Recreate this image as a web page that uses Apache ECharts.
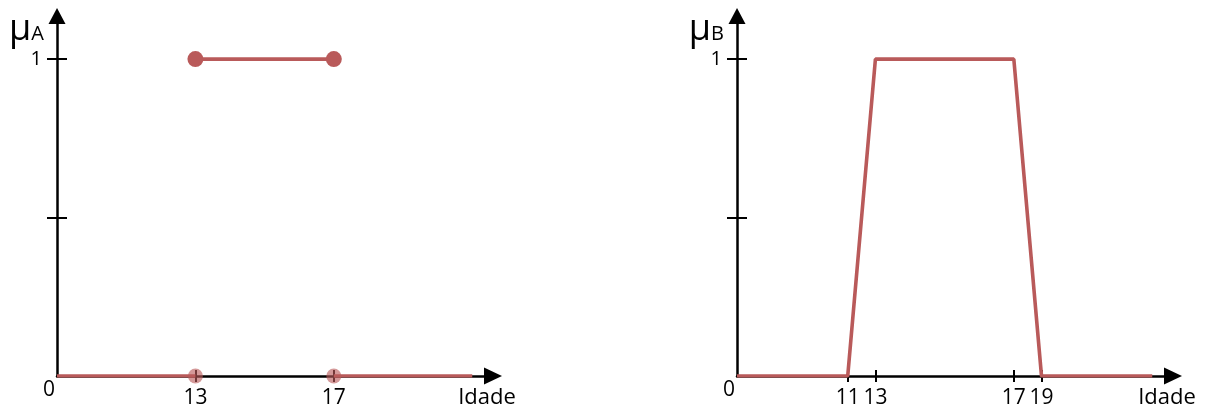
<!DOCTYPE html>
<html>
<head>
<meta charset="utf-8">
<script src="https://cdn.jsdelivr.net/npm/echarts@6/dist/echarts.min.js"></script>
<style>
  html, body { margin: 0; padding: 0; background: #fff; }
  #chart { width: 1210px; height: 410px; }
</style>
</head>
<body>
<div id="chart"></div>
<script>
// Age breakpoints and the step each one takes along the (schematic) age axis
const scaleAgesA = [0, 13, 17, 21];
const scaleStepsA = [0, 1, 2, 3];
const scaleAgesB = [0, 11, 13, 17, 19, 23];
const scaleStepsB = [0, 0.8, 1, 2, 2.2, 3];

// Labelled ages on each age axis
const ticksA = [13, 17];
const ticksB = [11, 13, 17, 19];

// Crisp set A: membership pieces as [age, mu]
const pieceLowA = [[0, 0], [13, 0]];
const pieceMidA = [[13, 1], [17, 1]];
const pieceHighA = [[17, 0], [21, 0]];
const closedDotsA = [[13, 1], [17, 1]];
const openDotsA = [[13, 0], [17, 0]];

// Fuzzy set B: trapezoidal membership
const agesB = [0, 11, 13, 17, 19, 23];
const muB = [0, 0, 1, 1, 0, 0];

// Membership ticks and labels
const muTicks = [0.5, 1];
const muLabels = [1];

const RED = '#b95a5a';
const INK = '#000';
const FONT = 'Open Sans';
const X_MAX = 3.15;
const Y_MAX = 1.136;

function piecewise(xs, ys) {
  return v => {
    for (let i = 1; i < xs.length; i++) {
      if (v <= xs[i] || i === xs.length - 1) {
        const t = (v - xs[i - 1]) / (xs[i] - xs[i - 1]);
        return ys[i - 1] + t * (ys[i] - ys[i - 1]);
      }
    }
    return ys[0];
  };
}

const stepA = piecewise(scaleAgesA, scaleStepsA);
const ageA = piecewise(scaleStepsA, scaleAgesA);
const stepB = piecewise(scaleAgesB, scaleStepsB);
const ageB = piecewise(scaleStepsB, scaleAgesB);

const inkLine = { color: INK, width: 2.5 };
const tickLine = { color: INK, width: 2 };

function xAxes(gridIndex, toStep, toAge, ticks) {
  const at = ticks.map(toStep);
  return [
    {
      type: 'value', gridIndex, min: 0, max: X_MAX, position: 'bottom',
      splitLine: { show: false },
      axisLine: { show: true, onZero: false, lineStyle: inkLine, symbol: ['none', 'triangle'], symbolSize: [17, 18] },
      axisTick: { show: true, customValues: at, length: 6, lineStyle: tickLine },
      axisLabel: {
        show: true, customValues: at, margin: 12, color: INK, fontFamily: FONT, fontSize: 21,
        formatter: v => String(Math.round(toAge(v)))
      },
      name: 'Idade', nameLocation: 'end', nameGap: -6,
      nameTextStyle: { align: 'center', verticalAlign: 'top', padding: [11, 0, 0, 0], color: INK, fontFamily: FONT, fontSize: 22 }
    },
    {
      type: 'value', gridIndex, min: 0, max: X_MAX, position: 'bottom',
      splitLine: { show: false },
      axisLine: { show: false, onZero: false },
      axisTick: { show: true, inside: true, customValues: at, length: 6, lineStyle: tickLine },
      axisLabel: { show: false }
    }
  ];
}

function yAxes(gridIndex, letter) {
  return [
    {
      type: 'value', gridIndex, min: 0, max: Y_MAX, position: 'left',
      splitLine: { show: false },
      axisLine: { show: true, onZero: false, lineStyle: inkLine, symbol: ['none', 'triangle'], symbolSize: [17, 16] },
      axisTick: { show: true, customValues: muTicks, length: 10, lineStyle: tickLine },
      axisLabel: { show: true, customValues: muLabels, margin: 15, color: INK, fontFamily: FONT, fontSize: 20 },
      name: '{mu|μ}{sub|' + letter + '}', nameLocation: 'end', nameGap: -14,
      nameTextStyle: {
        align: 'right', verticalAlign: 'middle', padding: [0, 13, 0, 0], color: INK, fontFamily: FONT,
        rich: {
          mu: { fontSize: 36, fontFamily: FONT, color: INK },
          sub: { fontSize: 20, fontFamily: FONT, color: INK, padding: [9, 0, 0, 0] }
        }
      }
    },
    {
      type: 'value', gridIndex, min: 0, max: Y_MAX, position: 'left',
      splitLine: { show: false },
      axisLine: { show: false, onZero: false },
      axisTick: { show: true, inside: true, customValues: muTicks, length: 10, lineStyle: tickLine },
      axisLabel: {
        show: true, customValues: [0], margin: 2, verticalAlign: 'top', padding: [4, 0, 0, 0],
        color: INK, fontFamily: FONT, fontSize: 21
      }
    }
  ];
}

const xa = xAxes(0, stepA, ageA, ticksA);
const xb = xAxes(1, stepB, ageB, ticksB);
const ya = yAxes(0, 'A');
const yb = yAxes(1, 'B');

const toA = pts => pts.map(([a, m]) => [stepA(a), m]);
const segStyle = { color: RED, width: 3.6 };

function segment(points) {
  return {
    type: 'line', xAxisIndex: 0, yAxisIndex: 0, data: toA(points),
    showSymbol: false, symbol: 'none', lineStyle: segStyle, silent: true, z: 3
  };
}

const option = {
  animation: false,
  backgroundColor: '#fff',
  grid: [
    { left: 57, top: 16, width: 436, height: 360, containLabel: false, outerBoundsMode: 'none' },
    { left: 737, top: 16, width: 436, height: 360, containLabel: false, outerBoundsMode: 'none' }
  ],
  xAxis: [...xa, ...xb],
  yAxis: [...ya, ...yb],
  series: [
    segment(pieceLowA),
    segment(pieceMidA),
    segment(pieceHighA),
    {
      type: 'scatter', xAxisIndex: 0, yAxisIndex: 0, data: toA(openDotsA),
      symbolSize: 15, itemStyle: { color: RED, opacity: 0.62 }, z: 4, silent: true
    },
    {
      type: 'scatter', xAxisIndex: 0, yAxisIndex: 0, data: toA(closedDotsA),
      symbolSize: 16, itemStyle: { color: RED, opacity: 1 }, z: 4, silent: true
    },
    {
      type: 'line', xAxisIndex: 2, yAxisIndex: 2,
      data: agesB.map((a, i) => [stepB(a), muB[i]]),
      showSymbol: false, symbol: 'none', lineStyle: segStyle, silent: true, z: 3
    }
  ]
};

const chart = echarts.init(document.getElementById('chart'), null, { renderer: 'canvas' });
chart.setOption(option);
</script>
</body>
</html>
